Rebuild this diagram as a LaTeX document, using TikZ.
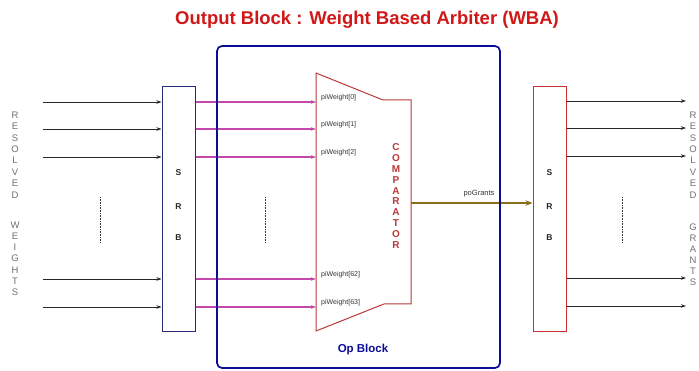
\documentclass[tikz,border=0pt]{standalone}
\usepackage{fontspec}
\setmainfont{Liberation Sans}
\usetikzlibrary{arrows.meta}
\definecolor{titlered}{HTML}{D01818}
\definecolor{opblue}{HTML}{0C0C98}
\definecolor{srbnavy}{HTML}{2A2A78}
\definecolor{srbred}{HTML}{C83030}
\definecolor{magline}{HTML}{C448AC}
\definecolor{cmpred}{HTML}{B83838}
\definecolor{grantcol}{HTML}{8C6E18}
\definecolor{lettergray}{HTML}{707070}
\tikzset{
  inarrow/.style={draw=black!85, line width=0.9pt, -{Stealth[length=5pt,width=3.5pt]}},
  magarrow/.style={draw=magline, line width=1.2pt, -{Stealth[length=5pt,width=3.5pt]}},
  srbbox/.style={draw=#1, line width=1pt, fill=white},
  srbletter/.style={font=\bfseries\fontsize{8.5}{9}\selectfont, text=black!85},
  vletter/.style={font=\fontsize{9.5}{10}\selectfont, text=lettergray, inner sep=0pt},
  cmpletter/.style={font=\bfseries\fontsize{10}{10}\selectfont, text=cmpred, inner sep=0pt},
  wlabel/.style={font=\fontsize{7}{7}\selectfont, text=black!80, anchor=south west, inner sep=1pt},
  dotline/.style={draw=black!80, line width=0.8pt, dash pattern=on 0.8pt off 0.8pt},
}
\begin{document}
\begin{tikzpicture}[x=1pt,y=-1pt]
\useasboundingbox (0,0) rectangle (699,371);
% title
\node[font=\bfseries\fontsize{18.5}{19}\selectfont, text=titlered] (title) at (367,20) {Output Block : Weight Based Arbiter (WBA)};
% left vertical text
\foreach \l [count=\i from 0] in {R,E,S,O,L,V,E,D}
  \node[vletter] (lr\i) at (15,{115+\i*11.4}) {\l};
\foreach \l [count=\i from 0] in {W,E,I,G,H,T,S}
  \node[vletter] (lw\i) at (15,{225+\i*11.2}) {\l};
% right vertical text
\foreach \l [count=\i from 0] in {R,E,S,O,L,V,E,D}
  \node[vletter] (rr\i) at (693,{115+\i*11.4}) {\l};
\foreach \l [count=\i from 0] in {G,R,A,N,T,S}
  \node[vletter] (rg\i) at (693,{227+\i*11}) {\l};
% SRB boxes
\node[srbbox=srbnavy, minimum width=33pt, minimum height=245pt, inner sep=0pt] (srbL) at (178.5,209.5) {};
\node[srbbox=srbred, minimum width=33pt, minimum height=245pt, inner sep=0pt] (srbR) at (549.5,209.5) {};
\foreach \x/\n in {178.5/L,549.5/R}{
  \node[srbletter] (s\n) at (\x,173) {S};
  \node[srbletter] (r\n) at (\x,207) {R};
  \node[srbletter] (b\n) at (\x,238) {B};
}
% comparator shape
\coordinate (c1) at (316,73);
\coordinate (c2) at (383,100);
\coordinate (c3) at (411,100);
\coordinate (c4) at (411,304);
\coordinate (c5) at (384,304);
\coordinate (c6) at (316,331);
\draw[draw=cmpred, line width=1pt, line join=miter] (c1) -- (c2) -- (c3) -- (c4) -- (c5) -- (c6) -- cycle;
\foreach \l [count=\i from 0] in {C,O,M,P,A,R,A,T,O,R}
  \node[cmpletter] (cl\i) at (396,{147+\i*10.9}) {\l};
\coordinate (cout) at (411,203);
% input lines
\foreach \y [count=\i] in {102,129,157,279,307}{
  \coordinate (in\i) at (43,\y);
  \coordinate (lo\i) at (srbL.east |- 0,\y);
  \coordinate (li\i) at (srbL.west |- 0,\y);
  \coordinate (ci\i) at (316,\y);
  \draw[inarrow] (in\i) -- (li\i);
  \draw[magarrow] (lo\i) -- (ci\i);
}
\foreach \y/\t in {102/0,129/1,157/2,279/62,307/63}
  \node[wlabel] (w\t) at (320,\y) {piWeight[\t]};
% output lines
\foreach \y [count=\i] in {101,128,156,278,306}{
  \coordinate (ro\i) at (srbR.east |- 0,\y);
  \coordinate (out\i) at (686,\y);
  \draw[inarrow] (ro\i) -- (out\i);
}
% poGrants
\draw[draw=grantcol, line width=1.5pt, -{Stealth[length=7pt,width=5.5pt]}] (cout) -- (srbR.west |- cout);
\node[font=\fontsize{7.5}{7.5}\selectfont, text=black!80, anchor=south, inner sep=1pt] (pg) at (479,198) {poGrants};
% dotted lines
\foreach \x/\n in {100/dL,265/dM,622/dR}{
  \coordinate (\n a) at (\x,197);
  \coordinate (\n b) at (\x,242);
  \draw[dotline] (\n a) -- (\n b);
}
% Op block
\draw[draw=opblue, line width=1.7pt, rounded corners=5pt] (217,46) rectangle (500,368);
\node[font=\bfseries\fontsize{11.5}{12}\selectfont, text=opblue] (opb) at (363,350) {Op Block};
\end{tikzpicture}
\end{document}
